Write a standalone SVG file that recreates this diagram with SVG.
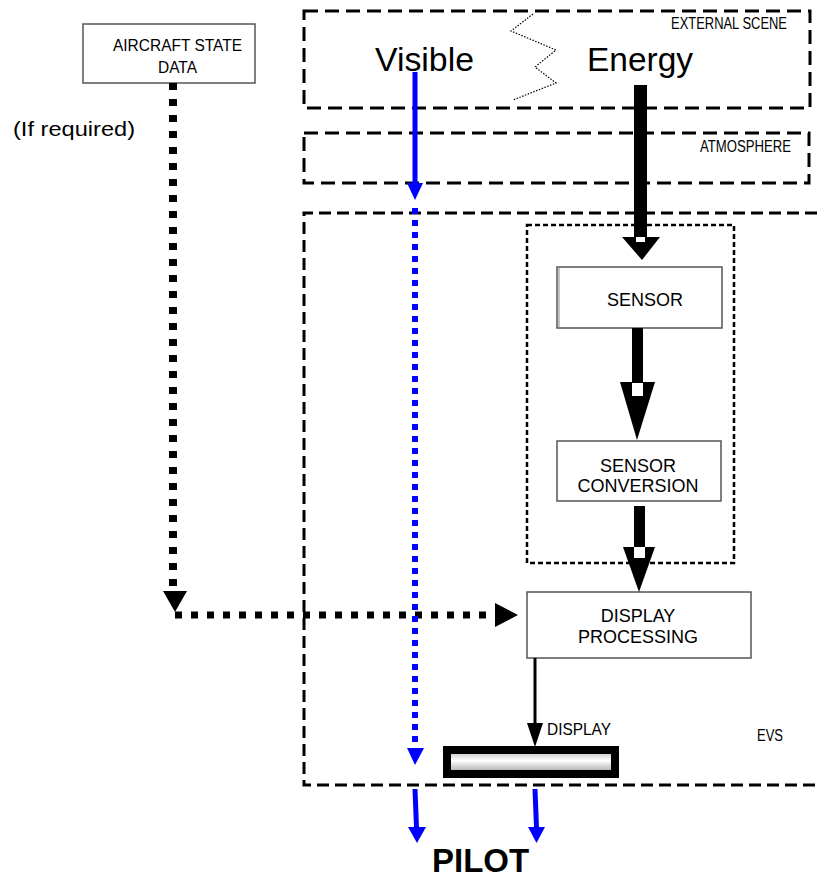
<svg xmlns="http://www.w3.org/2000/svg" width="817" height="881" viewBox="0 0 817 881">
<style>
text{font-family:"Liberation Sans",Arial,sans-serif;fill:#000}
.box{fill:#fff;stroke:#555;stroke-width:1.5}
.zone{fill:none;stroke:#000;stroke-width:3;stroke-dasharray:14 7}
.blue{stroke:#0000ff;stroke-width:5;fill:none}
.bluehead{fill:#0000ff}
.lbl{font-size:18px;text-anchor:middle}
.sm{font-size:16px}
</style>
<defs>
<linearGradient id="bar" x1="0" y1="0" x2="0" y2="1">
<stop offset="0" stop-color="#bbb"/>
<stop offset="0.45" stop-color="#fff"/>
<stop offset="1" stop-color="#999"/>
</linearGradient>
</defs>

<g id="zones">
<rect id="external-scene" class="zone" x="304" y="11" width="506" height="97"/>
<text x="671" y="29" class="sm" textLength="116" lengthAdjust="spacingAndGlyphs">EXTERNAL SCENE</text>
<text x="375" y="71" font-size="34" textLength="99" lengthAdjust="spacingAndGlyphs">Visible</text>
<text x="587" y="71" font-size="34" textLength="106" lengthAdjust="spacingAndGlyphs">Energy</text>
<polyline points="533,14 511,31 556,50 535,67 556,83 513,100" fill="none" stroke="#000" stroke-width="1.2" stroke-dasharray="1.5 1.5"/>
<rect id="atmosphere" class="zone" x="304" y="133" width="505" height="50"/>
<text x="700" y="152" class="sm" textLength="91" lengthAdjust="spacingAndGlyphs">ATMOSPHERE</text>
<g id="evs">
<polyline points="817,213 304,213 304,785 817,785" fill="none" stroke="#000" stroke-width="3" stroke-dasharray="12 6"/>
<text x="757" y="741" class="sm" textLength="26" lengthAdjust="spacingAndGlyphs">EVS</text>
</g>
<rect id="sensor-group" x="527" y="225" width="207" height="338" fill="none" stroke="#000" stroke-width="2.5" stroke-dasharray="5 3"/>
</g>

<g id="aircraft-state-data">
<rect class="box" x="83" y="24" width="172" height="59"/>
<text x="113" y="51" class="sm" textLength="129" lengthAdjust="spacingAndGlyphs">AIRCRAFT STATE</text>
<text x="158" y="73" class="sm" textLength="39" lengthAdjust="spacingAndGlyphs">DATA</text>
</g>
<text x="13" y="136" font-size="20" textLength="122" lengthAdjust="spacingAndGlyphs">(If required)</text>

<g id="sensor">
<rect class="box" x="557" y="267" width="165" height="61"/>
<line x1="559" y1="267" x2="559" y2="328" stroke="#888" stroke-width="1"/>
<text x="645" y="306" class="lbl">SENSOR</text>
</g>
<g id="sensor-conversion">
<rect class="box" x="557" y="441" width="164" height="60"/>
<text x="638" y="472" class="lbl">SENSOR</text>
<text x="638" y="492" class="lbl">CONVERSION</text>
</g>
<g id="display-processing">
<rect class="box" x="527" y="592" width="224" height="66"/>
<text x="638" y="622" class="lbl">DISPLAY</text>
<text x="638" y="643" class="lbl">PROCESSING</text>
</g>
<g id="display">
<rect x="447" y="750" width="168" height="24" fill="url(#bar)" stroke="#000" stroke-width="8"/>
<text x="547" y="735" font-size="17" textLength="64" lengthAdjust="spacingAndGlyphs">DISPLAY</text>
</g>
<g id="pilot">
<text x="432" y="872" font-size="33" font-weight="bold">PILOT</text>
</g>

<g id="connectors">
<rect x="634" y="85" width="13" height="153" fill="#000"/>
<polygon points="622,237 660,237 642,260" fill="#000"/>
<rect x="636" y="237" width="9" height="5" fill="#fff"/>
<rect x="632" y="328" width="11" height="55" fill="#000"/>
<polygon points="620,382 655,382 637,440" fill="#000"/>
<rect x="632" y="383" width="11" height="13" fill="#fff"/>
<rect x="634" y="506" width="11" height="42" fill="#000"/>
<polygon points="623,547 655,547 639,592" fill="#000"/>
<rect x="634" y="547" width="11" height="11" fill="#fff"/>
<line x1="535" y1="658" x2="535" y2="724" stroke="#000" stroke-width="3"/>
<polygon points="527,723 543,723 535,747" fill="#000"/>
<line x1="173" y1="83" x2="173" y2="590" stroke="#000" stroke-width="8" stroke-dasharray="7 9"/>
<polygon points="163,591 187,591 175,612" fill="#000"/>
<line x1="175" y1="615" x2="495" y2="615" stroke="#000" stroke-width="7" stroke-dasharray="7 9"/>
<polygon points="495,603 518,615 495,627" fill="#000"/>
<line class="blue" x1="415" y1="72" x2="415" y2="184"/>
<polygon class="bluehead" points="407,183 423,183 415,200"/>
<line x1="415" y1="208" x2="415" y2="748" stroke="#0000ff" stroke-width="6" stroke-dasharray="6 6"/>
<polygon class="bluehead" points="407,748 424,748 415,765"/>
<line class="blue" x1="415" y1="789" x2="416.5" y2="828"/>
<polygon class="bluehead" points="408,827 426,827 417,843"/>
<line class="blue" x1="535" y1="789" x2="536.5" y2="828"/>
<polygon class="bluehead" points="528,827 545,827 536.5,843"/>
</g>
</svg>
